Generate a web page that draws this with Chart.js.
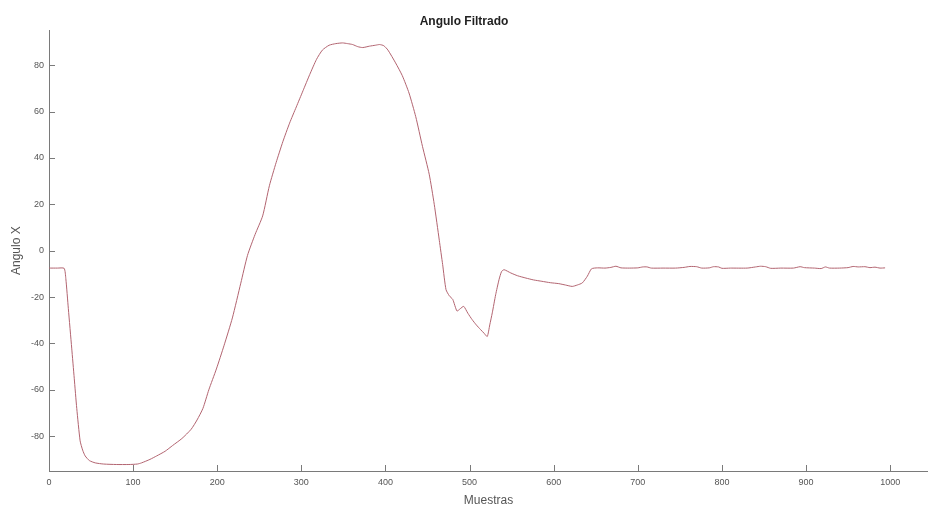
<!DOCTYPE html>
<html>
<head>
<meta charset="utf-8">
<script src="https://cdn.jsdelivr.net/npm/chart.js@4"></script>
<style>
    html, body { margin: 0; padding: 0; background: #fff; }
    #wrap { width: 928px; height: 508px; }
</style>
</head>
<body>
<div id="wrap"><canvas id="angle-chart"></canvas></div>
<script>
// Samples (x) and filtered angle (y)
const sampleIdx = [
    0, 10, 18, 20, 23, 27, 30, 33, 37, 40, 43, 48, 55, 65, 80, 95, 105, 110, 120, 128,
    138, 147, 158, 169, 176, 183, 190, 199, 208, 218, 228, 236, 245, 254, 262, 270, 278, 286, 294, 302,
    310, 318, 325, 333, 341, 349, 355, 361, 367, 373, 381, 388, 393, 398, 403, 412, 420, 428, 436, 444,
    452, 458, 464, 468, 472, 476, 480, 485, 489, 493, 498, 503, 508, 513, 517, 521, 524, 527, 531, 535,
    538, 541, 549, 557, 567, 576, 586, 596, 606, 614, 622, 628, 634, 640, 645, 652, 661, 668, 674, 680,
    690, 700, 706, 711, 716, 730, 745, 755, 762, 770, 776, 785, 790, 796, 800, 810, 830, 840, 846, 852,
    858, 870, 885, 893, 898, 910, 918, 923, 928, 940, 950, 956, 962, 970, 976, 982, 988, 994
];
const angleX = [
    -7.5, -7.5, -7.6, -12, -25, -42, -55, -68, -82, -86, -88.5, -90.5, -91.5, -92, -92.2, -92.2, -92, -91.5, -90, -88.5,
    -86.5, -84, -81, -77, -73, -68, -60, -51, -41, -29, -14, -2, 7, 15, 28, 38, 47, 55, 62, 69,
    76, 82.5, 86.5, 88.6, 89.3, 89.6, 89.3, 88.9, 88, 87.6, 88.2, 88.6, 88.9, 88.4, 86.5, 81, 75.5, 68, 57.8, 45,
    33, 20, 4.5, -6, -16.8, -19.5, -21, -26, -25, -24, -27, -29.7, -32, -34, -35.5, -37, -32, -26.8, -19, -12.5,
    -9, -8.2, -9.6, -10.8, -11.8, -12.6, -13.2, -13.8, -14.2, -14.8, -15.4, -14.8, -13.9, -11, -7.8, -7.4, -7.5, -7.2, -6.7, -7.4,
    -7.5, -7.4, -7.0, -7.0, -7.5, -7.5, -7.5, -7.2, -6.8, -6.9, -7.5, -7.4, -6.9, -7.0, -7.6, -7.5, -7.5, -7.0, -6.7, -6.9,
    -7.6, -7.5, -7.5, -6.9, -7.3, -7.5, -7.7, -7.0, -7.5, -7.5, -7.3, -6.8, -7.0, -6.9, -7.3, -7.1, -7.5, -7.4
];

const axisColor = '#7a7a7a';
const textColor = '#555555';

// MATLAB-style ticks pointing into the plot area
const innerTicks = {
    id: 'innerTicks',
    afterDatasetsDraw(chart) {
        const { ctx, chartArea, scales } = chart;
        ctx.save();
        ctx.strokeStyle = axisColor;
        ctx.lineWidth = 1;
        ctx.beginPath();
        scales.x.ticks.forEach(t => {
            const px = Math.round(scales.x.getPixelForValue(t.value)) + 0.5;
            ctx.moveTo(px, chartArea.bottom);
            ctx.lineTo(px, chartArea.bottom - 6);
        });
        scales.y.ticks.forEach(t => {
            const py = Math.round(scales.y.getPixelForValue(t.value)) + 0.5;
            ctx.moveTo(chartArea.left, py);
            ctx.lineTo(chartArea.left + 6, py);
        });
        ctx.stroke();
        ctx.restore();
    }
};

const points = sampleIdx.map((x, i) => ({ x: x, y: angleX[i] }));

new Chart(document.getElementById('angle-chart'), {
    type: 'line',
    data: {
        datasets: [{
            label: 'Angulo X',
            data: points,
            borderColor: 'rgb(178, 100, 112)',
            borderWidth: 1,
            pointRadius: 0,
            tension: 0.2,
            fill: false
        }]
    },
    options: {
        responsive: true,
        maintainAspectRatio: false,
        animation: false,
        layout: { padding: { left: 0, right: 0, top: 0, bottom: 0 } },
        plugins: {
            legend: { display: false },
            tooltip: { enabled: false },
            title: {
                display: true,
                text: 'Angulo Filtrado',
                color: '#222',
                font: { family: 'Liberation Sans', size: 12, weight: 'bold' },
                padding: { top: 14, bottom: 2 }
            }
        },
        scales: {
            x: {
                type: 'linear',
                min: 0,
                max: 1045,
                afterFit(scale) { scale.height = 37; },
                ticks: {
                    stepSize: 100,
                    includeBounds: false,
                    color: textColor,
                    padding: 6,
                    maxRotation: 0,
                    font: { family: 'Liberation Sans', size: 9 },
                    callback: v => String(v)
                },
                grid: { display: true, drawOnChartArea: false, drawTicks: false },
                border: { color: axisColor, width: 1 },
                title: {
                    display: true,
                    text: 'Muestras',
                    color: textColor,
                    font: { family: 'Liberation Sans', size: 12 },
                    padding: { top: 3, bottom: 0 }
                }
            },
            y: {
                min: -95,
                max: 95,
                afterFit(scale) { scale.width = 49; },
                ticks: {
                    stepSize: 20,
                    includeBounds: false,
                    color: textColor,
                    padding: 5,
                    font: { family: 'Liberation Sans', size: 9 },
                    callback: v => String(v)
                },
                grid: { display: true, drawOnChartArea: false, drawTicks: false },
                border: { color: axisColor, width: 1 },
                title: {
                    display: true,
                    text: 'Angulo X',
                    color: textColor,
                    font: { family: 'Liberation Sans', size: 12 },
                    padding: { top: 9, bottom: 0 }
                }
            }
        }
    },
    plugins: [innerTicks]
});
</script>
</body>
</html>
